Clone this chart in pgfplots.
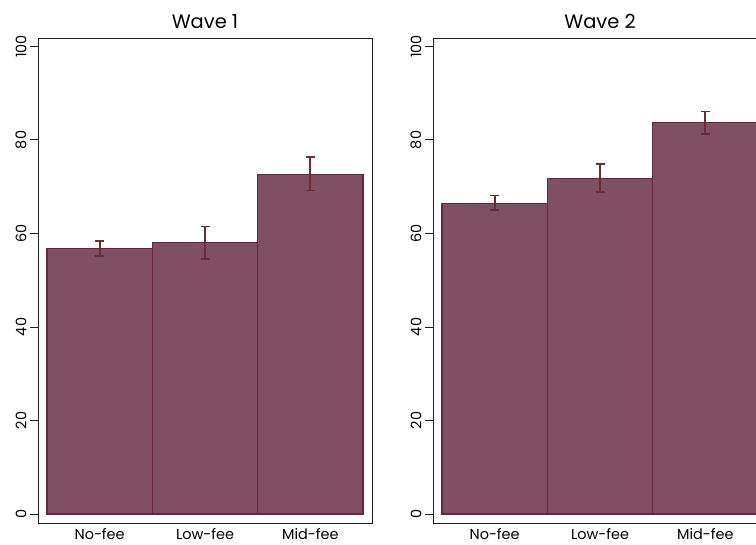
\documentclass[border=0pt]{standalone}
\usepackage{pgfplots}
\pgfplotsset{compat=1.18}
\usepackage{fontspec}
\setmainfont{Poppins}
\definecolor{barfill}{RGB}{128,79,99}
\definecolor{baredge}{RGB}{100,38,68}
\definecolor{errcol}{RGB}{105,45,52}
\definecolor{axcol}{RGB}{30,30,30}

\pgfplotstableread{
x y ep em
0 56.7 1.7 1.6
1 58.0 3.5 3.4
2 72.7 3.6 3.5
}\waveone
\pgfplotstableread{
x y ep em
0 66.5 1.6 1.5
1 71.7 3.1 2.9
2 83.7 2.4 2.5
}\wavetwo

\pgfplotsset{panel/.style={
  scale only axis, width=334bp, height=485bp, anchor=south west,
  xmin=-0.585, xmax=2.585, ymin=-1.925, ymax=101.8,
  ytick={0,20,40,60,80,100},
  xtick={0,1,2}, xticklabels={No-fee,Low-fee,Mid-fee},
  tick align=outside, major tick length=8bp,
  xtick style={draw=none},
  ytick style={axcol, line width=0.9bp},
  ytick pos=left, xtick pos=bottom,
  axis line style={axcol, line width=0.9bp},
  /pgf/number format/assume math mode=true,
  yticklabel style={rotate=90, anchor=south, font=\fontsize{14.5}{16}\selectfont, inner sep=3.5bp},
  xticklabel style={font=\fontsize{14.5}{16}\selectfont, inner sep=0bp, yshift=3bp},
  title style={font=\fontsize{19.5}{22}\selectfont, inner sep=3bp},
  clip=false,
}}

\begin{document}
\begin{tikzpicture}
\path[use as bounding box, clip] (0,0) rectangle (756bp,545bp);
\begin{axis}[panel, at={(38bp,22bp)}, title={Wave 1}]
\addplot[ybar, bar width=1, fill=barfill, draw=baredge, line width=1.1bp,
  error bars/.cd, y dir=both, y explicit,
  error bar style={errcol, line width=1.8bp},
  error mark options={errcol, line width=1.8bp, mark size=4.5bp, rotate=90}]
  table[x=x, y=y, y error plus=ep, y error minus=em] {\waveone};
\end{axis}
\begin{axis}[panel, at={(433bp,22bp)}, title={Wave 2}]
\addplot[ybar, bar width=1, fill=barfill, draw=baredge, line width=1.1bp,
  error bars/.cd, y dir=both, y explicit,
  error bar style={errcol, line width=1.8bp},
  error mark options={errcol, line width=1.8bp, mark size=4.5bp, rotate=90}]
  table[x=x, y=y, y error plus=ep, y error minus=em] {\wavetwo};
\end{axis}
\end{tikzpicture}
\end{document}
